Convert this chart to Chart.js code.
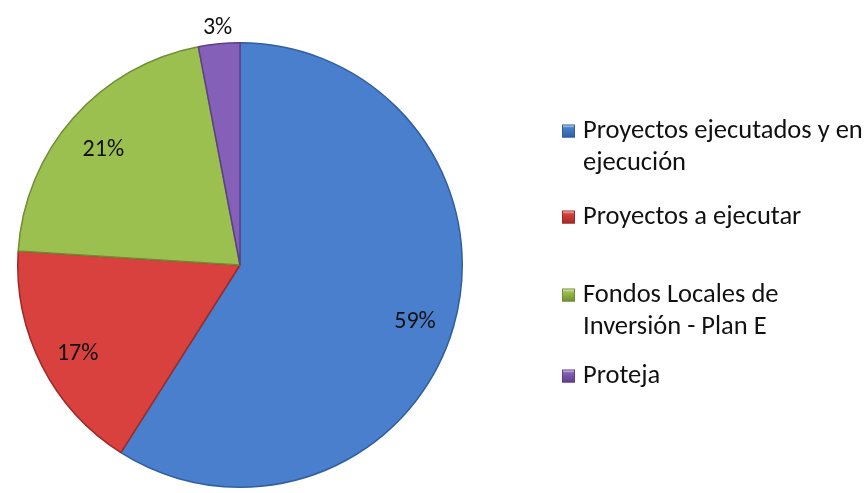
<!DOCTYPE html>
<html>
<head>
<meta charset="utf-8">
<script src="https://cdn.jsdelivr.net/npm/chart.js@4/dist/chart.umd.min.js"></script>
<style>
  html, body { margin: 0; padding: 0; background: #fff; }
  #wrap { width: 868px; height: 493px; position: relative; }
</style>
</head>
<body>
<div id="wrap"><canvas id="pie" width="868" height="493"></canvas></div>
<script>
const categories = [
  ["Proyectos ejecutados y en", "ejecución"],
  ["Proyectos a ejecutar"],
  ["Fondos Locales de", "Inversión - Plan E"],
  ["Proteja"]
];
const shares = [59, 17, 21, 3];
const sliceColors = ["#4a7fcd", "#d8413d", "#9cc04f", "#8560b8"];
const edgeColors = ["#2f5f9e", "#9e2a28", "#6f8d35", "#5d3f86"];

const FONT = "Calibri, Lato, 'Open Sans', sans-serif";

// percentage labels, inside for large slices, outside for tiny ones
const pctLabels = {
  id: "pctLabels",
  afterDatasetsDraw(chart) {
    const ctx = chart.ctx;
    const arcs = chart.getDatasetMeta(0).data;
    ctx.save();
    ctx.font = "24px " + FONT;
    ctx.fillStyle = "#111";
    ctx.textAlign = "center";
    ctx.textBaseline = "middle";
    arcs.forEach((arc, i) => {
      const mid = (arc.startAngle + arc.endAngle) / 2;
      const outside = shares[i] < 5;
      const r = arc.outerRadius * (outside ? 1.07 : 0.82);
      const dy = outside ? 0 : 6;
      ctx.fillText(shares[i] + "%", arc.x + Math.cos(mid) * r, arc.y + Math.sin(mid) * r + dy);
    });
    ctx.restore();
  }
};

// legend on the right with wrapped entries and bevelled markers
const sideLegend = {
  id: "sideLegend",
  afterDraw(chart) {
    const ctx = chart.ctx;
    const x0 = 562, box = 13, textX = 583, lineH = 32;
    const starts = [131, 217, 295, 376];
    ctx.save();
    ctx.font = "26.5px " + FONT;
    ctx.textBaseline = "middle";
    ctx.textAlign = "left";
    categories.forEach((lines, i) => {
      const y = starts[i];
      const g = ctx.createLinearGradient(0, y - box / 2, 0, y + box / 2);
      g.addColorStop(0, "#ffffff");
      g.addColorStop(0.25, sliceColors[i]);
      g.addColorStop(1, edgeColors[i]);
      ctx.fillStyle = g;
      ctx.fillRect(x0, y - box / 2, box, box);
      ctx.strokeStyle = edgeColors[i];
      ctx.lineWidth = 1;
      ctx.strokeRect(x0 + 0.5, y - box / 2 + 0.5, box - 1, box - 1);
      ctx.fillStyle = "#111";
      lines.forEach((t, k) => ctx.fillText(t, textX, y + k * lineH));
    });
    ctx.restore();
  }
};

new Chart(document.getElementById("pie"), {
  type: "pie",
  data: {
    labels: categories.map(l => l.join(" ")),
    datasets: [{
      data: shares,
      backgroundColor: sliceColors,
      borderColor: edgeColors,
      borderWidth: 1.5
    }]
  },
  options: {
    responsive: false,
    animation: false,
    layout: { padding: { left: 17, right: 405, top: 42, bottom: 5 } },
    plugins: {
      legend: { display: false },
      tooltip: { enabled: false }
    }
  },
  plugins: [pctLabels, sideLegend]
});
</script>
</body>
</html>
